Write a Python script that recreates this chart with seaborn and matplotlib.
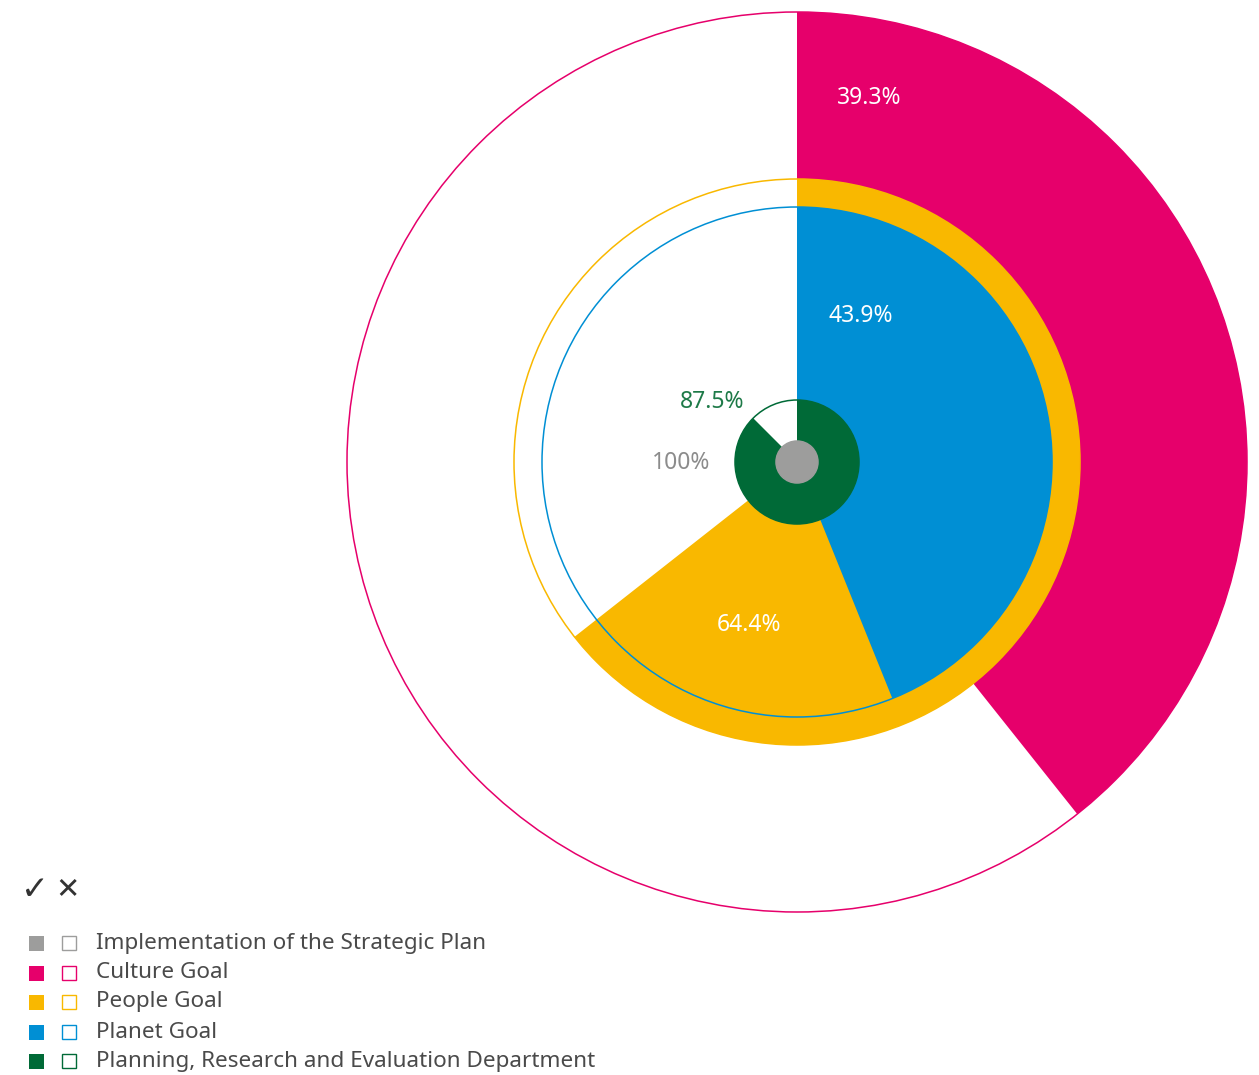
import numpy as np
import matplotlib
matplotlib.use("Agg")
import matplotlib.pyplot as plt
from matplotlib.patches import Wedge, Circle, Rectangle
import seaborn as sns

sns.set_theme(style="white")
plt.rcParams['font.family'] = ['Noto Sans', 'DejaVu Sans']

# data
series = ["Implementation of the Strategic Plan", "Culture Goal", "People Goal",
          "Planet Goal", "Planning, Research and Evaluation Department"]
values = [100, 39.3, 64.4, 43.9, 87.5]
labels = ["100%", "39.3%", "64.4%", "43.9%", "87.5%"]
colors = ["#9d9d9c", "#e6006b", "#f9b800", "#008fd4", "#006a37"]
label_colors = ["#8c8c8c", "white", "white", "white", "#1e7a48"]

# layout (pixels)
cx, cy = 797, 462
radii = [21, 450, 283, 255, 62]
label_pos = [(681, 463), (869, 98), (749, 625), (861, 316), (712, 402)]

fig = plt.figure(figsize=(12.59, 10.75), dpi=100)
ax = fig.add_axes([0, 0, 1, 1])
ax.set_xlim(0, 1259)
ax.set_ylim(1075, 0)
ax.set_aspect("equal")
ax.axis("off")

# draw big rings first
order = sorted(range(len(series)), key=lambda i: -radii[i])
for z, i in enumerate(order):
    r = radii[i]
    sweep = values[i] / 100 * 360
    # y axis inverted: angles measured clockwise from top on screen
    if values[i] >= 100:
        ax.add_patch(Circle((cx, cy), r, facecolor=colors[i], edgecolor="none", zorder=2 * z))
    else:
        ax.add_patch(Wedge((cx, cy), r, -90, -90 + sweep, facecolor=colors[i],
                           edgecolor="none", zorder=2 * z))
    ax.add_patch(Circle((cx, cy), r, facecolor="none", edgecolor=colors[i],
                        linewidth=1.1, zorder=2 * z + 1))

for i in range(len(series)):
    ax.text(label_pos[i][0], label_pos[i][1], labels[i], color=label_colors[i],
            fontsize=16.5, ha="center", va="center", zorder=20)

# legend
ax.text(21, 889, "\u2713", fontsize=24, color="#333333", va="center", ha="left",
        family=["DejaVu Sans"])
ax.text(55, 889, "\u2715", fontsize=21, color="#333333", va="center", ha="left",
        family=["DejaVu Sans"])
row_y = [943, 973, 1002, 1032, 1061]
for i, name in enumerate(series):
    y = row_y[i]
    ax.add_patch(Rectangle((29, y - 7.5), 15, 15, facecolor=colors[i], edgecolor="none"))
    ax.add_patch(Rectangle((62, y - 7), 14, 14, facecolor="white",
                           edgecolor=colors[i], linewidth=1.0))
    ax.text(96, y, name, fontsize=16.2, color="#4a4a4a", va="center", ha="left")

fig.savefig("out.png", dpi=100)
